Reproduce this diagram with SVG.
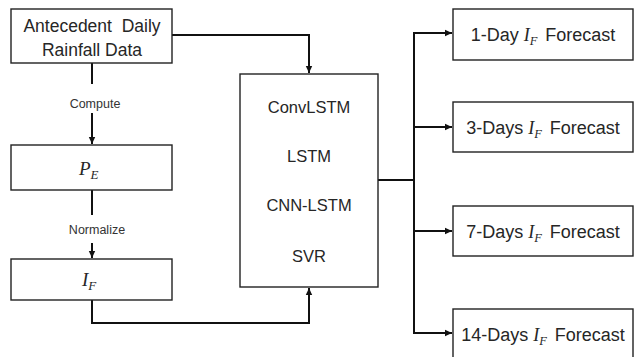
<svg xmlns="http://www.w3.org/2000/svg" width="634" height="357" viewBox="0 0 634 357">
<style>
.box{fill:#fff;stroke:#222;stroke-width:1.4}
.t{font-family:"Liberation Sans",Arial,sans-serif;fill:#262626;text-anchor:middle}
.m{font-family:"Liberation Serif","Times New Roman",serif;font-style:italic;fill:#262626}
.lbl{font-family:"Liberation Sans",Arial,sans-serif;font-size:12.5px;fill:#333;text-anchor:middle}
.c{fill:none;stroke:#111;stroke-width:2}
</style>
<defs>
<marker id="ah" markerUnits="userSpaceOnUse" markerWidth="8" markerHeight="8" refX="7" refY="4" orient="auto">
<path d="M0,0.8 L7,4 L0,7.2 Z" fill="#111"/>
</marker>
</defs>
<rect width="634" height="357" fill="#fff"/>
<g id="connectors">
<path class="c" d="M172,35 H309 V73" marker-end="url(#ah)"/>
<path class="c" d="M92,63 V84"/>
<path class="c" d="M92,113 V144" marker-end="url(#ah)"/>
<path class="c" d="M92,190 V215"/>
<path class="c" d="M92,243 V258" marker-end="url(#ah)"/>
<path class="c" d="M92,300 V323 H309 V288" marker-end="url(#ah)"/>
<path class="c" d="M378,180 H414"/>
<path class="c" d="M414,32 V334"/>
<path class="c" d="M413,33 H452" marker-end="url(#ah)"/>
<path class="c" d="M414,127 H452" marker-end="url(#ah)"/>
<path class="c" d="M414,231 H452" marker-end="url(#ah)"/>
<path class="c" d="M413,333 H452" marker-end="url(#ah)"/>
<text class="lbl" x="95" y="107.5">Compute</text>
<text class="lbl" x="97" y="233.5">Normalize</text>
</g>
<g id="rainfall">
<rect class="box" x="11" y="9" width="161" height="54"/>
<text class="t" x="92" y="31.5" font-size="17.5">Antecedent&#160; Daily</text>
<text class="t" x="92" y="56" font-size="17.5">Rainfall Data</text>
</g>
<g id="pe">
<rect class="box" x="11" y="145" width="161" height="45"/>
<text class="m" x="79" y="175" font-size="19">P<tspan font-size="13" dy="4">E</tspan></text>
</g>
<g id="if">
<rect class="box" x="11" y="259" width="161" height="41"/>
<text class="m" x="82" y="286" font-size="19">I<tspan font-size="13" dy="4">F</tspan></text>
</g>
<g id="models">
<rect class="box" x="240" y="74" width="138" height="213"/>
<text class="t" x="309" y="112.5" font-size="16.5">ConvLSTM</text>
<text class="t" x="309" y="161.5" font-size="16.5">LSTM</text>
<text class="t" x="309" y="211" font-size="16.5">CNN-LSTM</text>
<text class="t" x="309" y="262" font-size="16.5">SVR</text>
</g>
<g id="out1">
<rect class="box" x="453" y="9" width="180" height="51"/>
<text class="t" x="543" y="41" font-size="18">1-Day <tspan class="m">I<tspan font-size="12.5" dy="4">F</tspan></tspan><tspan dy="-4" dx="3"> Forecast</tspan></text>
</g>
<g id="out3">
<rect class="box" x="453" y="102" width="180" height="50"/>
<text class="t" x="543" y="134" font-size="18">3-Days <tspan class="m">I<tspan font-size="12.5" dy="4">F</tspan></tspan><tspan dy="-4" dx="3"> Forecast</tspan></text>
</g>
<g id="out7">
<rect class="box" x="453" y="206" width="180" height="50"/>
<text class="t" x="543" y="238" font-size="18">7-Days <tspan class="m">I<tspan font-size="12.5" dy="4">F</tspan></tspan><tspan dy="-4" dx="3"> Forecast</tspan></text>
</g>
<g id="out14">
<rect class="box" x="453" y="309" width="180" height="52"/>
<text class="t" x="543" y="340.5" font-size="18">14-Days <tspan class="m">I<tspan font-size="12.5" dy="4">F</tspan></tspan><tspan dy="-4" dx="3"> Forecast</tspan></text>
</g>
</svg>
